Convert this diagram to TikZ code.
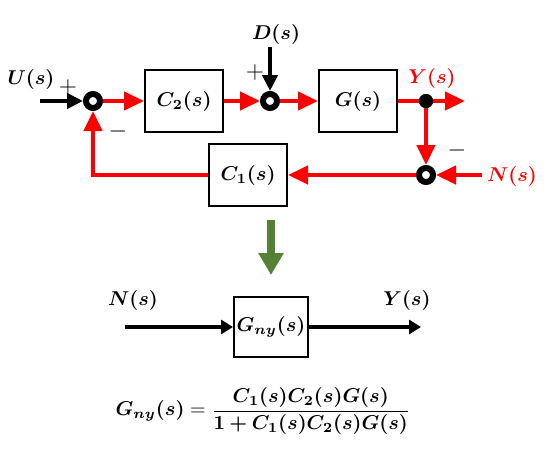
\documentclass[tikz,border=0pt]{standalone}
\usepackage{amsmath,amssymb,bm}
\usetikzlibrary{arrows.meta,positioning}
\definecolor{cSig}{HTML}{FF0000}
\definecolor{cStep}{HTML}{548235}

\begin{document}
\begin{tikzpicture}[x=0.5pt,y=-0.5pt,
  block/.style={
    draw, line width=1pt, minimum width=39pt, minimum height=31pt,
    font=\normalsize, inner sep=0pt
  },
  sumpt/.style={circle, draw, line width=3pt, fill=white, minimum size=7pt, inner sep=0pt},
  tappt/.style={circle, fill=black, minimum size=7pt, inner sep=0pt},
  lbl/.style={font=\normalsize, inner sep=1pt},
  sgn/.style={font=\large, inner sep=0pt},
  sig/.style={draw=cSig, line width=2.2pt, -{Triangle[length=10pt,width=9pt]}},
  sigline/.style={draw=cSig, line width=2.2pt},
  blk/.style={draw=black, line width=2.2pt, -{Triangle[length=8pt,width=7.5pt]}},
]
\useasboundingbox (0,0) rectangle (555,471);
% Loop
\node[sumpt] (s1) at (93,101) {};
\node[block] (c2) at (184,101) {$\bm{C_2(s)}$};
\node[sumpt] (s2) at (270,101) {};
\node[block] (g)  at (358,101) {$\bm{G(s)}$};
\node[tappt] (ydot) at (426,101) {};
\node[sumpt] (s3) at (426,175) {};
\node[block] (c1) at (248,175) {$\bm{C_1(s)}$};
\coordinate (uin)  at (40,101);
\coordinate (din)  at (270,47);
\coordinate (yout) at (465,101);
\coordinate (nin)  at (482,175);
% Labels
\node[lbl] (ulbl) at (31,79) {$\bm{U(s)}$};
\node[sgn] (p1)   at (68,87) {$+$};
\node[sgn] (m1)   at (118,131) {$-$};
\node[lbl] (dlbl) at (276,34) {$\bm{D(s)}$};
\node[sgn] (p2)   at (255,72) {$+$};
\node[lbl, text=cSig] (ylbl) at (432,78) {$\bm{Y(s)}$};
\node[sgn] (m3)   at (457,150) {$-$};
\node[lbl, text=cSig] (nlbl) at (512,176) {$\bm{N(s)}$};
% Signals
\draw[blk] (uin) -- (s1.west);
\draw[blk] (din) -- (s2.north);
\draw[sig] (s1.east) -- (c2.west);
\draw[sig] (c2.east) -- (s2.west);
\draw[sig] (s2.east) -- (g.west);
\draw[sigline] (g.east) -- (ydot.center);
\draw[sig] (ydot.center) -- (yout);
\draw[sig] (ydot.south) -- (s3.north);
\draw[sig] (nin) -- (s3.east);
\draw[sig] (s3.west) -- (c1.east);
\draw[sig] (c1.west) -| (s1.south);
\node[tappt] at (ydot) {};
% Reduction
\coordinate (gtop) at (271,220);
\coordinate (gbot) at (271,275);
\draw[draw=cStep, line width=4pt, -{Triangle[length=11pt,width=12pt]}] (gtop) -- (gbot);
\node[block, minimum width=37pt, minimum height=30pt] (gny) at (271,327) {$\bm{G_{ny}(s)}$};
\coordinate (nin2)  at (125,327);
\coordinate (yout2) at (421,327);
\node[lbl] (nlbl2) at (133,300) {$\bm{N(s)}$};
\node[lbl] (ylbl2) at (407,300) {$\bm{Y(s)}$};
\draw[blk, -{Triangle[length=6pt,width=7pt]}] (nin2) -- (gny.west);
\draw[blk, -{Triangle[length=6pt,width=7pt]}] (gny.east) -- (yout2);
% Result
\node[lbl] (eq) at (263,411)
  {$\bm{G_{ny}(s)} = \dfrac{\bm{C_1(s)C_2(s)G(s)}}{\bm{1+C_1(s)C_2(s)G(s)}}$};
\end{tikzpicture}
\end{document}
